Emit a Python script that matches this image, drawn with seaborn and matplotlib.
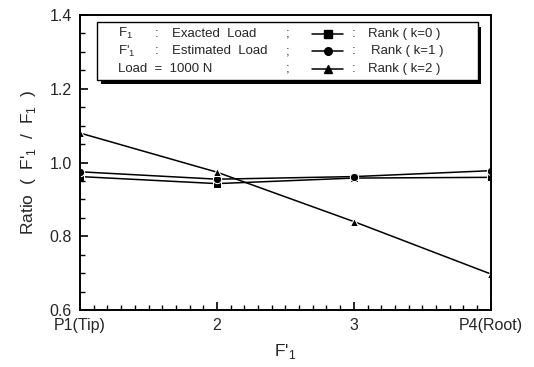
import matplotlib
matplotlib.use("Agg")
import matplotlib.pyplot as plt
from matplotlib.lines import Line2D
from matplotlib.patches import Rectangle
from matplotlib.ticker import MultipleLocator, FormatStrFormatter
import numpy as np
import pandas as pd
import seaborn as sns

positions = [1, 2, 3, 4]
tick_labels = ["P1(Tip)", "2", "3", "P4(Root)"]
rank_k0 = [0.962, 0.943, 0.958, 0.960]
rank_k1 = [0.975, 0.955, 0.962, 0.978]
rank_k2 = [1.080, 0.974, 0.840, 0.698]
series_names = ["Rank ( k=0 )", "Rank ( k=1 )", "Rank ( k=2 )"]

df = pd.DataFrame({
    "pos": positions * 3,
    "ratio": rank_k0 + rank_k1 + rank_k2,
    "rank": [series_names[0]] * 4 + [series_names[1]] * 4 + [series_names[2]] * 4,
})

sns.set_theme(style="ticks")
plt.rcParams["font.family"] = ["Liberation Sans", "DejaVu Sans"]
plt.rcParams["mathtext.fontset"] = "custom"
plt.rcParams["mathtext.rm"] = "Liberation Sans"
plt.rcParams["axes.axisbelow"] = False

fig = plt.figure(figsize=(5.34, 3.67), dpi=100)
ax = fig.add_axes([0.150, 0.155, 0.769, 0.804])
ax.set_axisbelow(False)

markers = {series_names[0]: "s", series_names[1]: "o", series_names[2]: "^"}
sns.lineplot(data=df, x="pos", y="ratio", hue="rank", style="rank",
             markers=markers, dashes=False, palette=["black"] * 3,
             markersize=6, linewidth=1.1, legend=False, ax=ax)

ax.set_xlim(1, 4)
ax.set_ylim(0.6, 1.4)
ax.set_xlabel("F$'_1$", fontsize=12.5, labelpad=6)
ax.set_ylabel("Ratio  (  F$'_1$  /  F$_1$  )", fontsize=12.5, labelpad=8)
for s in ax.spines.values():
    s.set_color("black")
    s.set_linewidth(1.4)

# legend box with shadow
tr = ax.transAxes
shadow = Rectangle((0.050, 0.765), 0.927, 0.196, transform=tr, facecolor="black",
                   edgecolor="none", zorder=4)
box = Rectangle((0.041, 0.780), 0.927, 0.196, transform=tr, facecolor="white",
                edgecolor="black", linewidth=1.0, zorder=5)
ax.add_artist(shadow)
ax.add_artist(box)

rows_y = [0.937, 0.878, 0.818]
left_txt = ["F$_1$", "F$'_1$", "Load  =  1000 N"]
mid_txt = ["Exacted  Load", "Estimated  Load", ""]
fs = 9.5
for i, y in enumerate(rows_y):
    ax.text(0.092, y, left_txt[i], transform=tr, fontsize=fs, va="center", zorder=6)
    if mid_txt[i]:
        ax.text(0.182, y, ":", transform=tr, fontsize=fs, va="center", zorder=6)
        ax.text(0.225, y, mid_txt[i], transform=tr, fontsize=fs, va="center", zorder=6)
    ax.text(0.500, y, ";", transform=tr, fontsize=fs, va="center", zorder=6)
    ax.add_artist(Line2D([0.565, 0.640], [y, y], transform=tr, color="black",
                         linewidth=1.1, zorder=6, clip_on=False))
    ax.add_artist(Line2D([0.6025], [y], transform=tr, marker=markers[series_names[i]],
                         color="black", markersize=5.5, linestyle="none",
                         zorder=7, clip_on=False))
    ax.text(0.662, y, ":", transform=tr, fontsize=fs, va="center", zorder=6)
    ax.text(0.700 + (0.008 if i == 1 else 0), y, series_names[i], transform=tr,
            fontsize=fs, va="center", zorder=6)

# ticks
ax.set_xticks(positions)
ax.set_xticklabels(tick_labels)
ax.set_xticks(np.arange(1.0, 4.001, 0.1), minor=True)
ax.yaxis.set_major_locator(MultipleLocator(0.2))
ax.yaxis.set_minor_locator(MultipleLocator(0.05))
ax.yaxis.set_major_formatter(FormatStrFormatter("%.1f"))
ax.tick_params(which="both", direction="in", color="black", labelsize=11.5, pad=6,
               bottom=True, left=True, top=False, right=False)
ax.tick_params(which="major", length=6, width=1.2)
ax.tick_params(axis="y", which="minor", length=3.5, width=1.0)
ax.tick_params(axis="x", which="minor", length=3.5, width=1.0)

fig.savefig("out.png", dpi=100, facecolor="white")
